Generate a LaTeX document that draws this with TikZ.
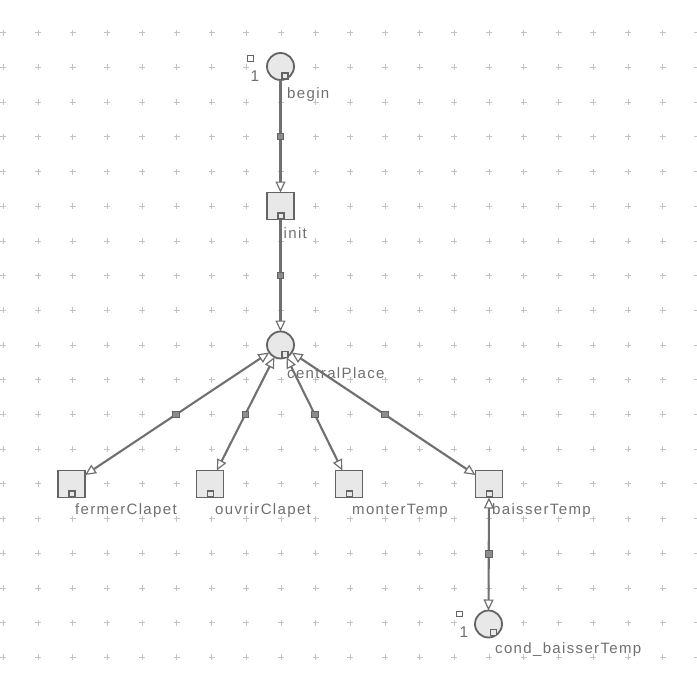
\documentclass[tikz,border=0pt]{standalone}
\usepackage{fontspec}
\newfontfamily\labfont[LetterSpace=9]{Liberation Sans}
\usetikzlibrary{arrows.meta,calc}
\definecolor{linegray}{RGB}{112,112,112}
\definecolor{bordergray}{RGB}{100,100,100}
\definecolor{fillgray}{RGB}{232,232,232}
\definecolor{textgray}{RGB}{112,112,112}
\definecolor{gridgray}{RGB}{195,195,195}
\definecolor{midgray}{RGB}{140,140,140}
\tikzset{
  place/.style={circle, draw=bordergray, fill=fillgray, line width=1.8pt, minimum size=27pt, inner sep=0pt, outer sep=0pt},
  trans/.style={rectangle, draw=bordergray, fill=fillgray, line width=1.8pt, minimum size=27pt, inner sep=0pt, outer sep=0pt},
  tiny/.style={rectangle, draw=bordergray, fill=fillgray, line width=1.1pt, minimum size=6pt, inner sep=0pt},
  midsq/.style={rectangle, draw=bordergray, fill=midgray, line width=0.9pt, minimum size=6.5pt, inner sep=0pt},
  token/.style={rectangle, draw=bordergray, fill=white, line width=1.1pt, minimum size=5.5pt, inner sep=0pt},
  lab/.style={anchor=west, text=textgray, inner sep=0pt, font=\labfont\fontsize{15}{16}\selectfont},
  tokn/.style={text=textgray, inner sep=0pt, font=\labfont\fontsize{15.5}{16}\selectfont},
  arc/.style={draw=linegray, line width=2.1pt, >={Triangle[length=11pt, width=10pt, fill=white, line width=1.2pt]}},
  gridmark/.style={draw=gridgray, line width=0.7pt}
}
\begin{document}
\begin{tikzpicture}[x=1pt, y=-1pt]
\useasboundingbox (0,0) rectangle (697,688);
\fill[white] (0,0) rectangle (697,688);
% grid
\foreach \i in {0,...,20} {
  \foreach \j in {0,...,18} {
    \draw[gridmark] ({3.3+34.7*\i-3},{32.7+34.7*\j}) -- ({3.3+34.7*\i+3},{32.7+34.7*\j});
    \draw[gridmark] ({3.3+34.7*\i},{32.7+34.7*\j-3}) -- ({3.3+34.7*\i},{32.7+34.7*\j+3});
  }
}
% nodes
\node[place] (begin) at (280.5,66.5) {};
\node[trans] (init) at (280.5,206) {};
\node[place] (central) at (280.5,345) {};
\node[trans] (fermer) at (71.5,484) {};
\node[trans] (ouvrir) at (210,484) {};
\node[trans] (monter) at (349,484) {};
\node[trans] (baisser) at (489,484) {};
\node[place] (cond) at (488.5,624) {};
% arcs
\draw[arc,->] (begin) -- (init);
\draw[arc,->] (init) -- (central);
\draw[arc,<->] (central) -- (fermer);
\draw[arc,<->] (central) -- (ouvrir);
\draw[arc,<->] (central) -- (monter);
\draw[arc,<->] (central) -- (baisser);
\draw[arc,<->] (baisser) -- (cond);
% midpoint squares
\node[midsq] (m1) at ($(begin)!0.5!(init)$) {};
\node[midsq] (m2) at ($(init)!0.5!(central)$) {};
\node[midsq] (m3) at ($(central)!0.5!(fermer)$) {};
\node[midsq] (m4) at ($(central)!0.5!(ouvrir)$) {};
\node[midsq] (m5) at ($(central)!0.5!(monter)$) {};
\node[midsq] (m6) at ($(central)!0.5!(baisser)$) {};
\node[midsq] (m7) at ($(baisser)!0.5!(cond)$) {};
% inner small squares
\node[tiny] (sb) at ($(begin)+(4.5,9.5)$) {};
\node[tiny] (si) at ($(init)+(0.5,10)$) {};
\node[tiny] (sc) at ($(central)+(4.5,9.5)$) {};
\node[tiny] (sf) at ($(fermer)+(0.5,10)$) {};
\node[tiny] (so) at ($(ouvrir)+(0.5,10)$) {};
\node[tiny] (sm) at ($(monter)+(0.5,10)$) {};
\node[tiny] (sbt) at ($(baisser)+(0.5,10)$) {};
\node[tiny] (scd) at ($(cond)+(5,8.5)$) {};
% tokens
\node[token] (tb) at ($(begin)+(-30,-8)$) {};
\node[tokn] (nb) at ($(begin)+(-25.5,10)$) {1};
\node[token] (tc) at ($(cond)+(-29,-10)$) {};
\node[tokn] (nc) at ($(cond)+(-24.5,8)$) {1};
% labels
\node[lab] (lb) at ($(begin)+(6.5,28.5)$) {begin};
\node[lab] (li) at ($(init)+(3,27)$) {init};
\node[lab] (lc) at ($(central)+(6.5,28)$) {centralPlace};
\node[lab] (lf) at ($(fermer)+(3.5,27)$) {fermerClapet};
\node[lab] (lo) at ($(ouvrir)+(5,27)$) {ouvrirClapet};
\node[lab] (lm) at ($(monter)+(3,27)$) {monterTemp};
\node[lab] (lbt) at ($(baisser)+(3,27)$) {baisserTemp};
\node[lab] (lcd) at ($(cond)+(6.5,26)$) {cond\_baisserTemp};
\end{tikzpicture}
\end{document}
